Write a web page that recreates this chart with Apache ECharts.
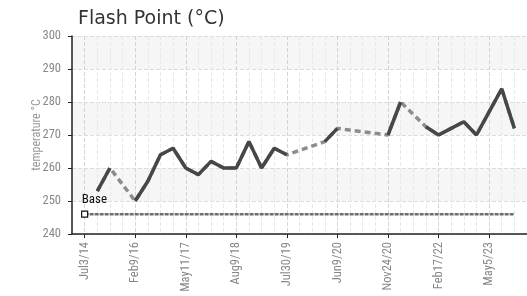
<!DOCTYPE html>
<html>
<head>
<meta charset="utf-8">
<script src="https://cdn.jsdelivr.net/npm/echarts@6/dist/echarts.min.js"></script>
<style>
    html, body { margin: 0; padding: 0; background: #fff; }
    #chart { width: 527px; height: 296px; }
</style>
</head>
<body>
<div id="chart"></div>
<script>
// category slots, labels only every 4th one
const categories = ['', 'Jul3/14', '', '', '', 'Feb9/16', '', '', '', 'May11/17', '', '', '',
    'Aug9/18', '', '', '', 'Jul30/19', '', '', '', 'Jun9/20', '', '', '', 'Nov24/20', '', '', '',
    'Feb17/22', '', '', '', 'May5/23', '', '', ''];
// measured flash point, null = no sample
const flashPoint = [null, null, 253, 260, null, 250, 256, 264, 266, 260, 258, 262, 260,
    260, 268, 260, 266, 264, null, null, 268, 272, null, null, null, 270, 280, null,
    272.5, 270, 272, 274, 270, 277, 284, 272, null];
const baseValue = 246;
const baseFrom = 1;
const baseTo = 35;
const yTicks = [240, 250, 260, 270, 280, 290, 300];

const narrow = '"Roboto Condensed", "DejaVu Sans Condensed", sans-serif';

const chart = echarts.init(document.getElementById('chart'));
chart.setOption({
    animation: false,
    title: {
        text: 'Flash Point (°C)',
        left: 73,
        top: 5,
        textStyle: {
            fontFamily: '"DejaVu Sans", sans-serif',
            fontSize: 19,
            fontWeight: 'normal',
            color: '#333'
        }
    },
    grid: {
        left: 72,
        right: 0,
        top: 36,
        bottom: 62
    },
    xAxis: {
        type: 'category',
        data: categories,
        boundaryGap: false,
        axisLine: { lineStyle: { color: '#222', width: 1.5 } },
        axisTick: {
            length: 4,
            interval: (i) => categories[i] !== '',
            lineStyle: { color: '#222' }
        },
        axisLabel: {
            interval: 0,
            rotate: 90,
            margin: 8,
            color: '#888',
            fontSize: 12.5,
            fontFamily: narrow
        },
        splitLine: {
            show: true,
            interval: 0,
            lineStyle: {
                type: 'dashed',
                color: ['#e8e8e8', '#d4d4d4', '#e8e8e8', '#e8e8e8'],
                width: 1
            }
        }
    },
    yAxis: {
        type: 'value',
        min: yTicks[0],
        max: yTicks[yTicks.length - 1],
        interval: 10,
        name: 'temperature °C',
        nameLocation: 'middle',
        nameGap: 29,
        nameMoveOverlap: false,
        nameTextStyle: { color: '#999', fontSize: 12, fontFamily: narrow },
        axisLine: { show: true, lineStyle: { color: '#222', width: 1.5 } },
        axisTick: { show: true, length: 4, lineStyle: { color: '#222' } },
        axisLabel: { color: '#888', fontSize: 12.5, fontFamily: narrow, margin: 11 },
        splitLine: { lineStyle: { type: 'dashed', color: '#dcdcdc' } },
        splitArea: { show: true, areaStyle: { color: ['#ffffff', '#f6f6f6'] } }
    },
    series: [
        {
            // bridges over missing samples
            name: 'gap',
            type: 'line',
            data: flashPoint,
            connectNulls: true,
            showSymbol: false,
            z: 2,
            lineStyle: { color: '#8c8c8c', width: 3.5, type: [6, 4] }
        },
        {
            name: 'Flash Point',
            type: 'line',
            data: flashPoint,
            connectNulls: false,
            showSymbol: false,
            z: 3,
            lineStyle: { color: '#474747', width: 3.5 }
        },
        {
            name: 'Base',
            type: 'line',
            z: 4,
            lineStyle: { color: '#6e6e6e', width: 2.5, type: [4, 1] },
            data: [
                {
                    value: [baseFrom, baseValue],
                    symbol: 'rect',
                    symbolSize: 6,
                    itemStyle: { color: '#fff', borderColor: '#111', borderWidth: 1.2 },
                    label: {
                        show: true,
                        formatter: 'Base',
                        position: 'top',
                        align: 'left',
                        offset: [-3, 1],
                        color: '#111',
                        fontSize: 13,
                        fontFamily: narrow
                    }
                },
                { value: [baseTo, baseValue], symbol: 'none' }
            ]
        }
    ]
});
</script>
</body>
</html>
